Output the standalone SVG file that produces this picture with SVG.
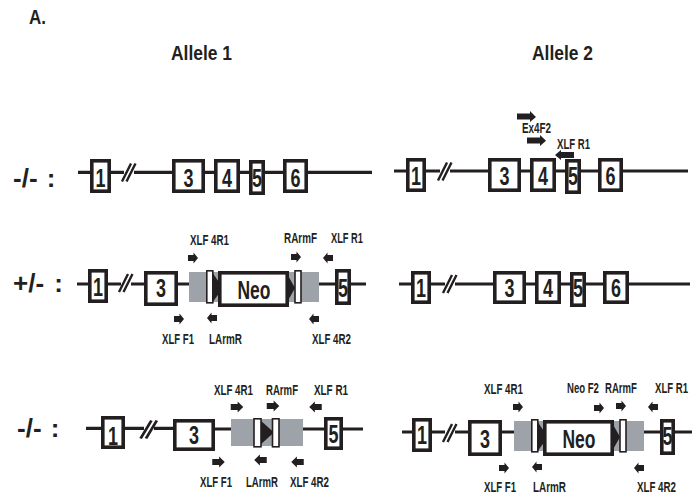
<svg xmlns="http://www.w3.org/2000/svg" width="693" height="504" viewBox="0 0 693 504">
<defs>
<style>
text{font-family:"Liberation Sans",Arial,sans-serif;font-weight:bold;fill:#231f20;text-anchor:middle}
.t{font-size:20px;text-anchor:start}
.n{font-size:26px}
.s{font-size:14px;text-anchor:start}
.c{font-size:26px;text-anchor:start}
.l{stroke:#231f20;stroke-width:3.2;fill:none}
.b{fill:#fff;stroke:#231f20;stroke-width:3.6}
.sl{stroke:#231f20;stroke-width:1.6;fill:#fff}
.g{fill:#9da3a8}.k{fill:#231f20}
</style>
<path id="ar" class="k" d="M-5 -3H0.500V-5.500L5 0L0.500 5.500V3H-5Z"/>
<path id="al" class="k" d="M5 -3H-0.500V-5.500L-5 0L-0.500 5.500V3H5Z"/>
<path id="sl" d="M-7 9L2 -9M-2.500 9L6.500 -9" stroke="#231f20" stroke-width="2.400" fill="none"/>
</defs>
<rect width="693" height="504" fill="#fff"/>
<g id="labels">
<text class="t" x="29" y="24" textLength="17" lengthAdjust="spacingAndGlyphs">A.</text>
<text class="t" x="171" y="60" textLength="61" lengthAdjust="spacingAndGlyphs">Allele 1</text>
<text class="t" x="532" y="60" textLength="61" lengthAdjust="spacingAndGlyphs">Allele 2</text>
<text class="c" x="13" y="187" word-spacing="2">-/- :</text>
<text class="c" x="13" y="292" word-spacing="3">+/- :</text>
<text class="c" x="17" y="437" word-spacing="2">-/- :</text>
</g>
<g id="connectors">
<path class="l" d="M78 172.300H124M134 172.300H372"/>
<use href="#sl" x="129" y="172.500"/>
<path class="l" d="M394 171H440M450 171H688"/>
<use href="#sl" x="445" y="171.500"/>
<path class="l" d="M77 284H121M131 284H144M178 284H189M319 284H366"/>
<use href="#sl" x="126" y="283"/>
<path class="l" d="M399 284H445M455 284H690"/>
<use href="#sl" x="450" y="284"/>
<path class="l" d="M86 428.300H144M154 428.300H173M215 429H231M303 429H363"/>
<use href="#sl" transform="translate(149 429.500) scale(1.200 1)"/>
<path class="l" d="M402 432H445M455 432H468M502 432H514M644 432H692"/>
<use href="#sl" x="450" y="433"/>
</g>
<g id="allele1-row1">
<g id="a1e1"><rect class="b" x="91.800" y="160.800" width="17.400" height="30.400"/><text class="n" x="100.500" y="187" textLength="10" lengthAdjust="spacingAndGlyphs">1</text></g>
<g id="a1e3"><rect class="b" x="173.800" y="160.800" width="29.400" height="30.400"/><text class="n" x="188.500" y="187" textLength="10" lengthAdjust="spacingAndGlyphs">3</text></g>
<g id="a1e4"><rect class="b" x="215.800" y="160.800" width="22.400" height="30.400"/><text class="n" x="227" y="187" textLength="10" lengthAdjust="spacingAndGlyphs">4</text></g>
<g id="a1e5"><rect class="b" x="250.800" y="161.800" width="12.400" height="31.400"/><text class="n" x="257" y="187" textLength="10" lengthAdjust="spacingAndGlyphs">5</text></g>
<g id="a1e6"><rect class="b" x="284.800" y="160.800" width="21.400" height="30.400"/><text class="n" x="295.500" y="187" textLength="10" lengthAdjust="spacingAndGlyphs">6</text></g>
</g>
<g id="allele2-row1">
<g id="b1e1"><rect class="b" x="407.800" y="159.800" width="16.400" height="30.400"/><text class="n" x="416" y="185" textLength="10" lengthAdjust="spacingAndGlyphs">1</text></g>
<g id="b1e3"><rect class="b" x="489.800" y="159.800" width="29.400" height="30.400"/><text class="n" x="504.500" y="185" textLength="10" lengthAdjust="spacingAndGlyphs">3</text></g>
<g id="b1e4"><rect class="b" x="531.800" y="159.800" width="22.400" height="30.400"/><text class="n" x="543" y="185" textLength="10" lengthAdjust="spacingAndGlyphs">4</text></g>
<g id="b1e5"><rect class="b" x="566.800" y="160.800" width="12.400" height="31.400"/><text class="n" x="573" y="185" textLength="10" lengthAdjust="spacingAndGlyphs">5</text></g>
<g id="b1e6"><rect class="b" x="599.800" y="159.800" width="21.400" height="30.400"/><text class="n" x="610.500" y="185" textLength="10" lengthAdjust="spacingAndGlyphs">6</text></g>
<path class="k" d="M517 113.500H530V111L536 117L530 122V119.500H517Z"/>
<path class="k" d="M527 137.500H540V135L546 140.700L540 146V143.500H527Z"/>
<path class="k" d="M574 152H561V150L555 155L561 160V158H574Z"/>
<text class="s" x="522" y="133" textLength="29" lengthAdjust="spacingAndGlyphs">Ex4F2</text>
<text class="s" x="557" y="149" textLength="33" lengthAdjust="spacingAndGlyphs">XLF R1</text>
</g>
<g id="allele1-row2">
<rect class="g" x="189" y="272" width="130" height="30"/>
<g id="a2e1"><rect class="b" x="89.800" y="270.800" width="16.400" height="30.400"/><text class="n" x="98" y="296" textLength="10" lengthAdjust="spacingAndGlyphs">1</text></g>
<g id="a2e3"><rect class="b" x="145.800" y="272.800" width="30.400" height="31.400"/><text class="n" x="161" y="297" textLength="10" lengthAdjust="spacingAndGlyphs">3</text></g>
<path class="k" d="M212 272L223 288L212 303ZM286 272L295 288L286 304Z"/>
<rect class="sl" x="206.800" y="270.800" width="6" height="32"/>
<rect class="sl" x="295" y="270.800" width="6" height="32"/>
<g id="a2neo"><rect class="b" x="219.800" y="272.800" width="67.400" height="32.400"/><text class="n" x="254" y="299" textLength="33" lengthAdjust="spacingAndGlyphs">Neo</text></g>
<g id="a2e5"><rect class="b" x="336.800" y="270.800" width="12.400" height="32.400"/><text class="n" x="343" y="297" textLength="10" lengthAdjust="spacingAndGlyphs">5</text></g>
<use href="#ar" x="193" y="258"/><use href="#ar" x="296" y="257"/><use href="#al" x="328" y="258"/>
<use href="#ar" x="179" y="319"/><use href="#al" x="212" y="318"/><use href="#al" x="314" y="319"/>
<text class="s" x="190" y="245" textLength="39" lengthAdjust="spacingAndGlyphs">XLF 4R1</text>
<text class="s" x="284" y="243" textLength="33" lengthAdjust="spacingAndGlyphs">RArmF</text>
<text class="s" x="331" y="243" textLength="32" lengthAdjust="spacingAndGlyphs">XLF R1</text>
<text class="s" x="162" y="344" textLength="32" lengthAdjust="spacingAndGlyphs">XLF F1</text>
<text class="s" x="209" y="344" textLength="33" lengthAdjust="spacingAndGlyphs">LArmR</text>
<text class="s" x="312" y="344" textLength="39" lengthAdjust="spacingAndGlyphs">XLF 4R2</text>
</g>
<g id="allele2-row2">
<g id="b2e1"><rect class="b" x="412.800" y="272.800" width="16.400" height="29.400"/><text class="n" x="421" y="297" textLength="10" lengthAdjust="spacingAndGlyphs">1</text></g>
<g id="b2e3"><rect class="b" x="494.800" y="272.800" width="29.400" height="29.400"/><text class="n" x="509.500" y="297" textLength="10" lengthAdjust="spacingAndGlyphs">3</text></g>
<g id="b2e4"><rect class="b" x="536.800" y="272.800" width="22.400" height="29.400"/><text class="n" x="548" y="297" textLength="10" lengthAdjust="spacingAndGlyphs">4</text></g>
<g id="b2e5"><rect class="b" x="571.800" y="273.800" width="12.400" height="31.400"/><text class="n" x="578" y="297" textLength="10" lengthAdjust="spacingAndGlyphs">5</text></g>
<g id="b2e6"><rect class="b" x="604.800" y="272.800" width="22.400" height="29.400"/><text class="n" x="616" y="297" textLength="10" lengthAdjust="spacingAndGlyphs">6</text></g>
</g>
<g id="allele1-row3">
<rect class="g" x="231" y="419" width="72" height="27"/>
<g id="a3e1"><rect class="b" x="102.800" y="417.800" width="20.400" height="29.400"/><text class="n" x="113" y="445" textLength="10" lengthAdjust="spacingAndGlyphs">1</text></g>
<g id="a3e3"><rect class="b" x="174.800" y="420.800" width="38.400" height="28.400"/><text class="n" x="194" y="444" textLength="10" lengthAdjust="spacingAndGlyphs">3</text></g>
<path class="k" d="M260 420L274 432.500L260 445Z"/>
<rect class="sl" x="254" y="418.800" width="7" height="28"/>
<rect class="sl" x="272.500" y="418.800" width="6.500" height="28"/>
<g id="a3e5"><rect class="b" x="325.800" y="418.800" width="15.400" height="29.400"/><text class="n" x="333.500" y="443" textLength="10" lengthAdjust="spacingAndGlyphs">5</text></g>
<use href="#ar" transform="translate(237 407) scale(1.250 1)"/><use href="#ar" transform="translate(273 406) scale(1.250 1)"/><use href="#al" transform="translate(315.500 407) scale(1.250 1)"/>
<use href="#ar" transform="translate(218.500 462) scale(1.250 1)"/><use href="#al" transform="translate(260.500 460) scale(1.250 1)"/><use href="#al" transform="translate(297.500 462) scale(1.250 1)"/>
<text class="s" x="214" y="395" textLength="39" lengthAdjust="spacingAndGlyphs">XLF 4R1</text>
<text class="s" x="266" y="395" textLength="32" lengthAdjust="spacingAndGlyphs">RArmF</text>
<text class="s" x="314" y="395" textLength="34" lengthAdjust="spacingAndGlyphs">XLF R1</text>
<text class="s" x="200" y="487" textLength="32" lengthAdjust="spacingAndGlyphs">XLF F1</text>
<text class="s" x="246" y="487" textLength="32" lengthAdjust="spacingAndGlyphs">LArmR</text>
<text class="s" x="290" y="487" textLength="39" lengthAdjust="spacingAndGlyphs">XLF 4R2</text>
</g>
<g id="allele2-row3">
<rect class="g" x="514" y="421" width="130" height="30"/>
<g id="b3e1"><rect class="b" x="413.800" y="419.800" width="16.400" height="30.400"/><text class="n" x="422" y="444" textLength="10" lengthAdjust="spacingAndGlyphs">1</text></g>
<g id="b3e3"><rect class="b" x="469.800" y="421.800" width="30.400" height="32.400"/><text class="n" x="485" y="448" textLength="10" lengthAdjust="spacingAndGlyphs">3</text></g>
<path class="k" d="M537 421L548 437L537 452ZM611 421L620 437L611 453Z"/>
<rect class="sl" x="531.800" y="419.800" width="6" height="32"/>
<rect class="sl" x="620" y="419.800" width="6" height="32"/>
<g id="b3neo"><rect class="b" x="544.800" y="421.800" width="67.400" height="32.400"/><text class="n" x="579" y="448" textLength="33" lengthAdjust="spacingAndGlyphs">Neo</text></g>
<g id="b3e5"><rect class="b" x="661.800" y="420.800" width="11.400" height="32.400"/><text class="n" x="667.500" y="445" textLength="10" lengthAdjust="spacingAndGlyphs">5</text></g>
<use href="#ar" x="518" y="407"/><use href="#ar" x="599" y="408"/><use href="#ar" x="621" y="406"/><use href="#al" x="653" y="407"/>
<use href="#ar" x="504" y="468"/><use href="#al" x="537" y="467"/><use href="#al" x="639" y="468"/>
<text class="s" x="484" y="394" textLength="39" lengthAdjust="spacingAndGlyphs">XLF 4R1</text>
<text class="s" transform="translate(567 393) scale(.685 1)">Neo F2</text>
<text class="s" transform="translate(605 393) scale(.685 1)">RArmF</text>
<text class="s" transform="translate(655 393) scale(.685 1)">XLF R1</text>
<text class="s" x="484" y="492" textLength="32" lengthAdjust="spacingAndGlyphs">XLF F1</text>
<text class="s" x="533" y="492" textLength="33" lengthAdjust="spacingAndGlyphs">LArmR</text>
<text class="s" x="637" y="492" textLength="39" lengthAdjust="spacingAndGlyphs">XLF 4R2</text>
</g>
</svg>
